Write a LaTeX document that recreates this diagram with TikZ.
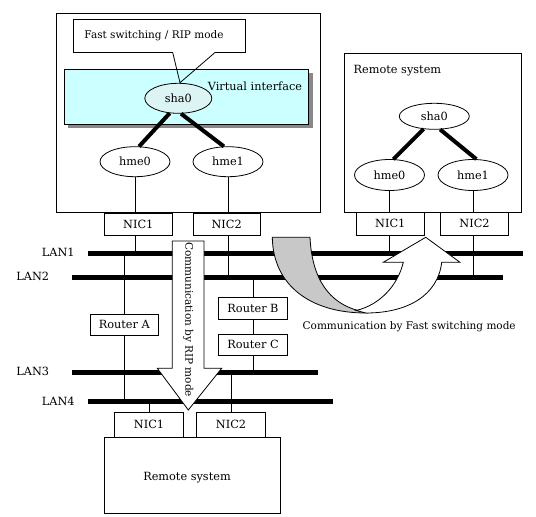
\documentclass[tikz,border=0pt]{standalone}
\usepackage{fontspec}
\setmainfont{DejaVu Serif}
\usetikzlibrary{shapes.geometric}
\definecolor{cyanl}{HTML}{CCFFFF}
\definecolor{cyanm}{HTML}{DDF4F4}
\definecolor{shadowg}{HTML}{888888}
\definecolor{arrowg}{HTML}{C8C8C8}
\begin{document}
\begin{tikzpicture}[x=1pt,y=-1pt, line width=0.8pt,
  lbl/.style={font=\fontsize{11.3}{13}\selectfont},
  lbls/.style={font=\fontsize{10.5}{12}\selectfont},
  box/.style={draw, fill=white, inner sep=0pt, lbl},
  nic/.style={box, minimum width=68pt, minimum height=22pt},
  rtr/.style={box, minimum width=68pt, minimum height=21.5pt},
  ell/.style={draw, ellipse, fill=white, inner sep=0pt, minimum width=70pt, minimum height=30pt, lbl},
  lan/.style={line width=4.5pt},
  bond/.style={line width=4pt},
  txt/.style={inner sep=0pt, lbl},
]
\useasboundingbox (0,0) rectangle (536,517);

% ---- main system ----
\node[draw, inner sep=0pt, minimum width=264pt, minimum height=199pt, anchor=north west] (sys) at (56,13) {};
\draw (172.7,52.5) -- (73,52.5) -- (73,19) -- (245,19) -- (245,52.5) -- (215,52.5);
\node[txt, lbls] (calltxt) at (154,35.5) {Fast switching / RIP mode};
\fill[shadowg] (68,73.3) rectangle (312.7,128.3);
\node[draw, fill=cyanl, inner sep=0pt, minimum width=244.3pt, minimum height=54.7pt, anchor=north west] (virt) at (64,69.3) {};
\node[txt] (virttxt) at (255,86.5) {Virtual interface};
\node[ell, fill=cyanm, minimum width=67pt] (sha0) at (178.3,98.3) {sha0};
\coordinate (calltip) at (180,82.7);
\draw (172.7,52.5) -- (calltip) -- (215,52.5);
\node[ell] (hme0) at (135,161.7) {hme0};
\node[ell] (hme1) at (228,161.7) {hme1};
\draw[bond] (sha0.240) -- (hme0.75);
\draw[bond] (sha0.280) -- (hme1.105);
\node[nic] (nicA) at (138.3,224.2) {NIC1};
\node[nic, minimum width=66.7pt] (nicB) at (226.7,224.2) {NIC2};
\draw (hme0.south) -- (hme0.south |- nicA.north);
\draw (hme1.south) -- (hme1.south |- nicB.north);

% ---- right remote system ----
\node[draw, inner sep=0pt, minimum width=176.7pt, minimum height=159pt, anchor=north west] (rsys) at (344,53.3) {};
\node[txt, anchor=west] (rsystxt) at (353.3,71) {Remote system};
\node[ell, minimum height=26pt] (sha0R) at (434.3,116.3) {sha0};
\node[ell, minimum height=31pt] (hme0R) at (389.5,175) {hme0};
\node[ell, minimum height=31pt] (hme1R) at (473,175) {hme1};
\draw[bond] (sha0R.230) -- (hme0R.76);
\draw[bond] (sha0R.294) -- (hme1R.78);
\node[nic, minimum width=67.3pt, minimum height=22.7pt] (nicE) at (390.3,223.7) {NIC1};
\node[nic, minimum width=67.6pt, minimum height=22.7pt] (nicF) at (474.5,223.7) {NIC2};
\draw (hme0R.south) -- (hme0R.south |- nicE.north);
\draw (hme1R.south) -- (hme1R.south |- nicF.north);

% ---- LAN coordinates ----
\coordinate (l1L) at (87.7,253.3);  \coordinate (l1R) at (523,253.3);
\coordinate (l2L) at (72.3,277.3);  \coordinate (l2R) at (503,277.3);
\coordinate (l3L) at (72.3,372.7);  \coordinate (l3R) at (318,372.7);
\coordinate (l4L) at (87.7,401.7);  \coordinate (l4R) at (333,401.7);

% ---- routers and bottom system ----
\node[rtr, minimum width=67.7pt] (rA) at (124.3,324.8) {Router A};
\node[rtr, minimum width=68.3pt] (rB) at (253,308.3) {Router B};
\node[rtr, minimum width=68.3pt] (rC) at (253,344.7) {Router C};
\node[nic, minimum width=68.3pt, minimum height=25pt] (nicC) at (149,424.8) {NIC1};
\node[nic, minimum width=68.3pt, minimum height=25pt] (nicD) at (231,424.8) {NIC2};
\node[box, minimum width=176.7pt, minimum height=76pt] (bsys) at (192.3,475.3) {};
\node[txt] (bsystxt) at (187,477.5) {Remote system};

% ---- connectors to LANs ----
\draw (hme0.south |- nicA.south) -- (hme0.south |- l1L);
\draw (hme1.south |- nicB.south) -- (hme1.south |- l2L);
\draw (hme0R.south |- nicE.south) -- (hme0R.south |- l1L);
\draw (hme1R.south |- nicF.south) -- (hme1R.south |- l2L);
\draw (rA.north) -- (rA.north |- l1L);
\draw (rA.south) -- (rA.south |- l4L);
\draw (rB.north) -- (rB.north |- l2L);
\draw (rB.south) -- (rC.north);
\draw (rC.south) -- (rC.south |- l3L);
\draw (nicC.north) -- (nicC.north |- l4L);
\draw (nicD.north) -- (nicD.north |- l3L);

% ---- LAN lines ----
\draw[lan] (l1L) -- (l1R);
\draw[lan] (l2L) -- (l2R);
\draw[lan] (l3L) -- (l3R);
\draw[lan] (l4L) -- (l4R);
\node[txt, anchor=east] (lan1) at (75,252.5) {LAN1};
\node[txt, anchor=west] (lan2) at (16,276.5) {LAN2};
\node[txt, anchor=west] (lan3) at (16,371) {LAN3};
\node[txt, anchor=east] (lan4) at (75,401) {LAN4};

% ---- RIP arrow ----
\draw[fill=white] (172.3,241) -- (204,241) -- (204,368.3) -- (221.7,368.3) -- (188.3,410)
  -- (157.3,368.3) -- (172.3,368.3) -- cycle;
\node[txt, lbls, rotate=-90] (riptxt) at (188.3,319.7) {Communication by RIP mode};

% ---- fast switching arrow ----
\draw[fill=arrowg] (272.3,237.3) .. controls (273,285) and (310,313) .. (366,313)
  -- (358,310.5) .. controls (330,303) and (312,280) .. (310,237.3) -- cycle;
\draw[fill=white] (356,310.5) -- (366,313) .. controls (408,313) and (438,295) .. (441.7,262.3)
  -- (460,262.3) -- (425.7,237.3) -- (383.3,262.3) -- (403.3,262.3)
  .. controls (398,285) and (380,305) .. (356,310.5) -- cycle;
\node[txt, lbls] (fasttxt) at (409.2,327) {Communication by Fast switching mode};
\end{tikzpicture}
\end{document}
